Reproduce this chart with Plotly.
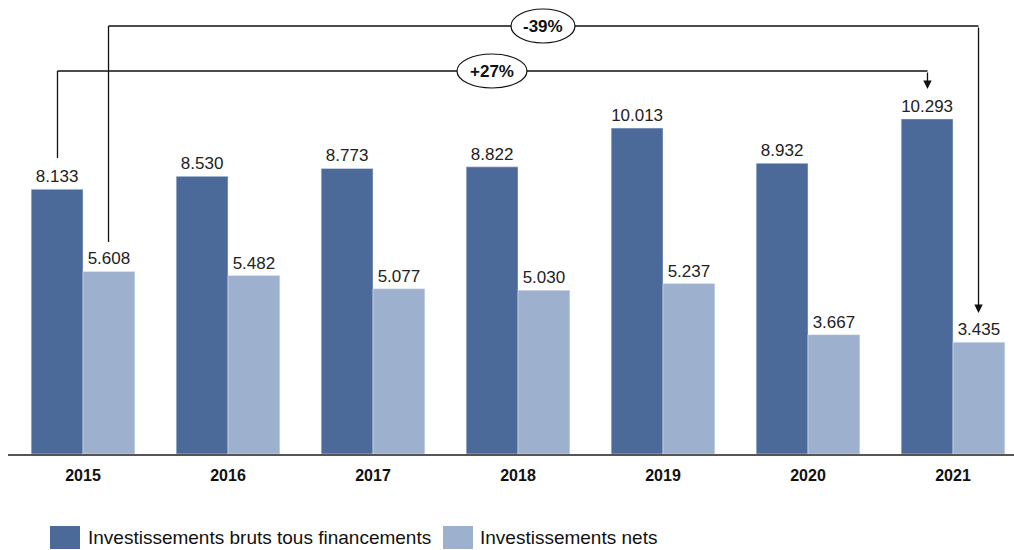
import plotly.graph_objects as go

# ---- data ----
years = ["2015", "2016", "2017", "2018", "2019", "2020", "2021"]
bruts = [8.133, 8.530, 8.773, 8.822, 10.013, 8.932, 10.293]
nets = [5.608, 5.482, 5.077, 5.030, 5.237, 3.667, 3.435]
name_bruts = "Investissements bruts tous financements"
name_nets = "Investissements nets"
label_bruts_change = "+27%"
label_nets_change = "-39%"

# ---- style ----
C_DARK = "#4B6A99"
C_LIGHT = "#9DB0CE"
FONT = "Liberation Sans"
W, H = 1014, 550
ML, MT, MB = 8, 0, 96
PX_PER_CAT = 145.0
FIRST_CENTER_PX = 83.0
PX_PER_UNIT = 32.55

x = list(range(len(years)))
x0 = -(FIRST_CENTER_PX - ML) / PX_PER_CAT
x1 = x0 + (W - ML) / PX_PER_CAT
ymax = (H - MT - MB) / PX_PER_UNIT


def py(p):  # pixel y -> data y
    return (H - MB - p) / PX_PER_UNIT


def px(p):  # pixel x -> data x
    return (p - FIRST_CENTER_PX) / PX_PER_CAT


fig = go.Figure()
fig.add_trace(go.Bar(x=x, y=bruts, name=name_bruts, marker_color=C_DARK,
                     texttemplate="%{y:.3f}", textposition="outside",
                     textfont=dict(family=FONT, size=17, color="#222"),
                     cliponaxis=False, showlegend=False))
fig.add_trace(go.Bar(x=x, y=nets, name=name_nets, marker_color=C_LIGHT,
                     texttemplate="%{y:.3f}", textposition="outside",
                     textfont=dict(family=FONT, size=17, color="#222"),
                     cliponaxis=False, showlegend=False))

off = 0.176
first, last = x[0], x[-1]
line = dict(color="#111", width=1.3)
shapes = []
annotations = []

# +27% bracket (bruts 2015 -> bruts 2021)
yb = py(71)
shapes.append(dict(type="line", xref="x", yref="y", x0=first - off, x1=first - off,
                   y0=py(158), y1=yb, line=line))
shapes.append(dict(type="line", xref="x", yref="y", x0=first - off, x1=last - off,
                   y0=yb, y1=yb, line=line))
annotations.append(dict(x=last - off, y=py(89), ax=last - off, ay=yb, xref="x", yref="y",
                        axref="x", ayref="y", showarrow=True, arrowhead=2, arrowsize=1.3,
                        arrowwidth=1.3, arrowcolor="#111", text=""))
cx = px(492)
shapes.append(dict(type="circle", xref="x", yref="y", x0=cx - 35 / PX_PER_CAT,
                   x1=cx + 35 / PX_PER_CAT, y0=yb - 17 / PX_PER_UNIT, y1=yb + 17 / PX_PER_UNIT,
                   fillcolor="white", line=dict(color="#111", width=1.2), layer="above"))
annotations.append(dict(x=cx, y=yb, xref="x", yref="y", text="<b>" + label_bruts_change + "</b>",
                        showarrow=False, font=dict(family=FONT, size=17, color="#111")))

# -39% bracket (nets 2015 -> nets 2021)
yn = py(26)
shapes.append(dict(type="line", xref="x", yref="y", x0=first + off, x1=first + off,
                   y0=py(242), y1=yn, line=line))
shapes.append(dict(type="line", xref="x", yref="y", x0=first + off, x1=last + off,
                   y0=yn, y1=yn, line=line))
annotations.append(dict(x=last + off, y=py(313), ax=last + off, ay=yn, xref="x", yref="y",
                        axref="x", ayref="y", showarrow=True, arrowhead=2, arrowsize=1.3,
                        arrowwidth=1.3, arrowcolor="#111", text=""))
cx2 = px(543)
shapes.append(dict(type="circle", xref="x", yref="y", x0=cx2 - 32 / PX_PER_CAT,
                   x1=cx2 + 32 / PX_PER_CAT, y0=yn - 17 / PX_PER_UNIT, y1=yn + 17 / PX_PER_UNIT,
                   fillcolor="white", line=dict(color="#111", width=1.2), layer="above"))
annotations.append(dict(x=cx2, y=yn, xref="x", yref="y", text="<b>" + label_nets_change + "</b>",
                        showarrow=False, font=dict(family=FONT, size=17, color="#111")))

# manual legend (paper coords from pixels)
def pxp(p):
    return (p - ML) / (W - ML)


def pyp(p):
    return (H - MB - p) / (H - MT - MB)


for (sx, tx, col, nm) in [(50, 86, C_DARK, name_bruts), (443, 478, C_LIGHT, name_nets)]:
    shapes.append(dict(type="rect", xref="paper", yref="paper", x0=pxp(sx), x1=pxp(sx + 30),
                       y0=pyp(549), y1=pyp(526), fillcolor=col, line=dict(width=0)))
    annotations.append(dict(x=pxp(tx), y=pyp(537.5), xref="paper", yref="paper", text=nm,
                            xanchor="left", yanchor="middle", showarrow=False,
                            font=dict(family=FONT, size=19, color="#111")))

fig.update_layout(
    width=W, height=H,
    margin=dict(l=ML, r=0, t=MT, b=MB),
    plot_bgcolor="white", paper_bgcolor="white",
    barmode="group", bargap=0.285, bargroupgap=0,
    showlegend=False,
    shapes=shapes, annotations=annotations,
    xaxis=dict(range=[x0, x1], tickmode="array", tickvals=x,
               ticktext=["<b>" + y + "</b>" for y in years],
               tickfont=dict(family=FONT, size=16, color="#111"),
               showline=True, linecolor="#555", linewidth=2, ticks="outside",
               ticklen=6, tickcolor="rgba(0,0,0,0)", showgrid=False, zeroline=False),
    yaxis=dict(range=[0, ymax], visible=False, showgrid=False, zeroline=False),
)

fig.write_html("out.html", config={"displayModeBar": False},
               post_script="document.body.style.margin='0';document.body.style.overflow='hidden';")
